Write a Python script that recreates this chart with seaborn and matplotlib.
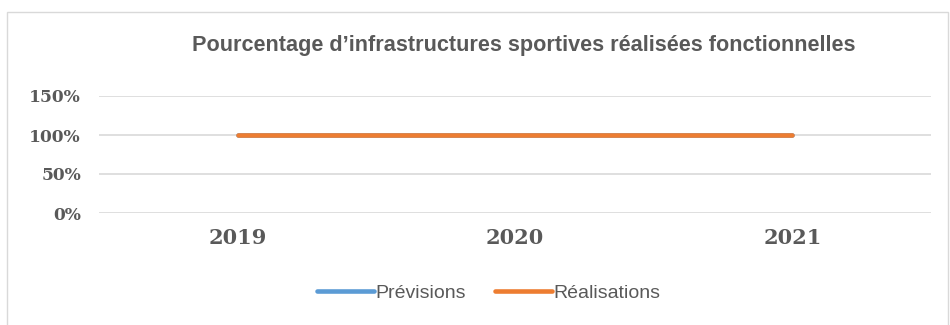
import pandas as pd
import matplotlib.pyplot as plt
import seaborn as sns
from matplotlib.patches import Rectangle

# Data
years = ["2019", "2020", "2021"]
previsions = [1.0, 1.0, 1.0]
realisations = [1.0, 1.0, 1.0]

series_names = ["Prévisions", "Réalisations"]
colors = ["#5B9BD5", "#ED7D31"]

df = pd.DataFrame({
    "annee": years * 2,
    "valeur": previsions + realisations,
    "serie": [series_names[0]] * 3 + [series_names[1]] * 3,
})

sns.set_style("white")
plt.rcParams['font.family'] = ['Liberation Sans', 'DejaVu Sans']

fig = plt.figure(figsize=(9.5, 3.25), dpi=100)
ax = fig.add_axes([99 / 950, 1 - 213 / 325, 832 / 950, 117 / 325])

sns.lineplot(
    data=df, x="annee", y="valeur", hue="serie",
    hue_order=series_names, palette=colors,
    linewidth=3.3, ax=ax, legend=True,
    solid_capstyle="round",
)

ax.set_xlim(-0.5, 2.5)
ax.set_ylim(0, 1.5)
ax.set_yticks([0, 0.5, 1.0, 1.5])
ax.set_yticklabels(["0%", "50%", "100%", "150%"])
ax.yaxis.grid(True, color="#D9D9D9", linewidth=1.2)
ax.set_axisbelow(True)
for s in ax.spines.values():
    s.set_visible(False)
ax.set_xlabel("")
ax.set_ylabel("")
ax.tick_params(axis="both", length=0)
ax.tick_params(axis="y", pad=13)
ax.tick_params(axis="x", pad=11)
for lab in ax.get_yticklabels():
    lab.set_fontfamily("DejaVu Serif")
    lab.set_fontweight("heavy")
    lab.set_fontsize(12.3)
    lab.set_color("#595959")
for lab in ax.get_xticklabels():
    lab.set_fontfamily("DejaVu Serif")
    lab.set_fontweight("heavy")
    lab.set_fontsize(15)
    lab.set_color("#595959")

for line in ax.get_lines():
    line.set_solid_capstyle("round")

leg = ax.legend(
    loc="center", bbox_to_anchor=(489 / 950, 1 - 293 / 325),
    bbox_transform=fig.transFigure, ncol=2, frameon=False,
    fontsize=14, handlelength=2.9, handletextpad=0.1, columnspacing=1.5,
)
for txt in leg.get_texts():
    txt.set_color("#595959")
for h in leg.get_lines():
    h.set_linewidth(3.3)
    h.set_solid_capstyle("round")

fig.text(524 / 950, 1 - 46 / 325,
         "Pourcentage d\u2019infrastructures sportives réalisées fonctionnelles",
         ha="center", va="center", fontsize=15.6, fontweight="bold",
         color="#595959")

fig.patches.append(Rectangle((7 / 950, -0.05), 941 / 950, 1.05 - 12 / 325,
                             transform=fig.transFigure, fill=False,
                             edgecolor="#D9D9D9", linewidth=1))

fig.savefig("out.png", dpi=100)
